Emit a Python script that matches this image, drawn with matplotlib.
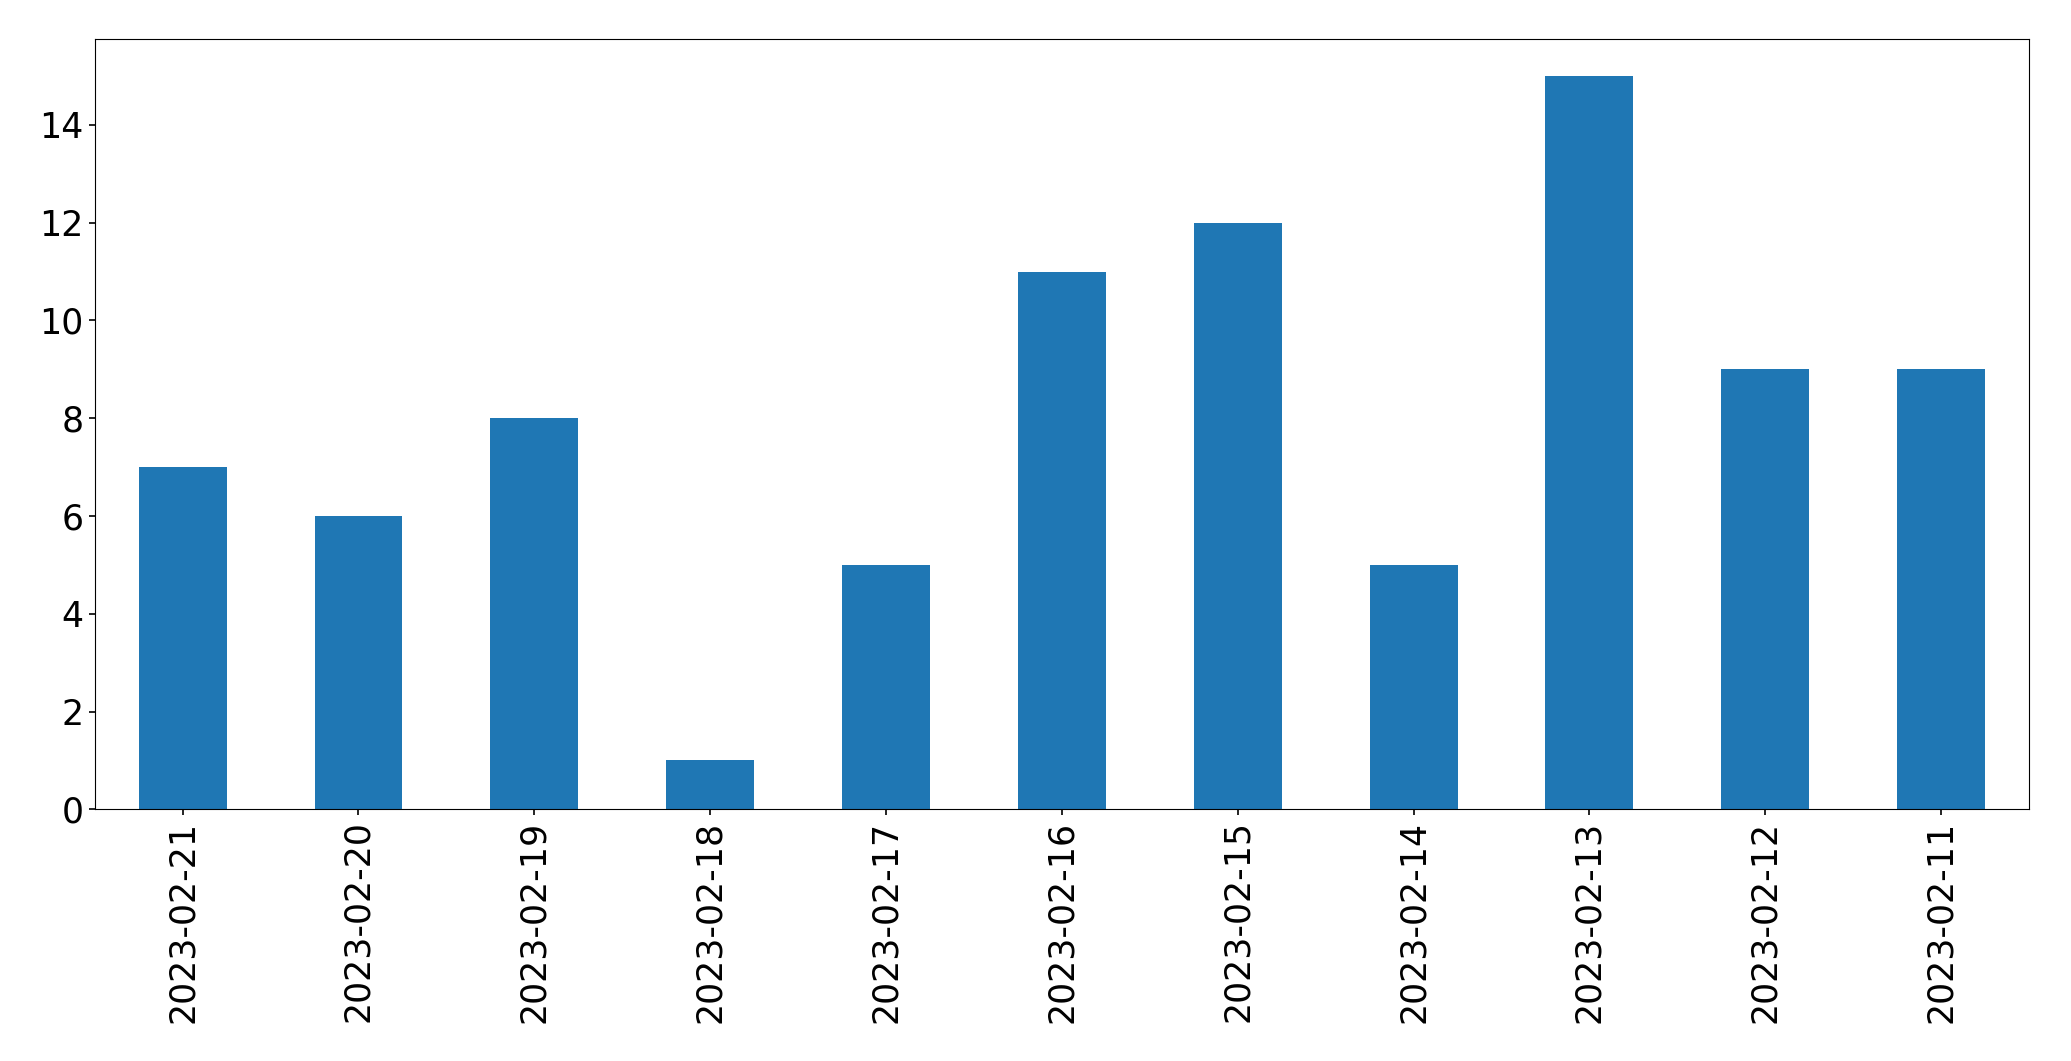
import matplotlib
matplotlib.use("Agg")
import matplotlib.pyplot as plt

dates = ["2023-02-21", "2023-02-20", "2023-02-19", "2023-02-18", "2023-02-17",
         "2023-02-16", "2023-02-15", "2023-02-14", "2023-02-13", "2023-02-12",
         "2023-02-11"]
counts = [7, 6, 8, 1, 5, 11, 12, 5, 15, 9, 9]

fig = plt.figure(figsize=(20.71, 10.61), dpi=100)
ax = fig.add_axes([94.7 / 2071, 1 - 809.3 / 1061, (2029 - 94.7) / 2071, (809.3 - 39.3) / 1061])
x = list(range(len(dates)))
ax.bar(x, counts, width=0.5, color="#1f77b4")
ax.set_xlim(-0.5, len(dates) - 0.5)
ax.set_ylim(0, 15.75)
ax.set_xticks(x)
ax.set_xticklabels(dates, rotation=90)
ax.set_yticks([0, 2, 4, 6, 8, 10, 12, 14])
ax.tick_params(labelsize=25, width=1.2, length=4.5)
fig.savefig("out.png", dpi=100)
